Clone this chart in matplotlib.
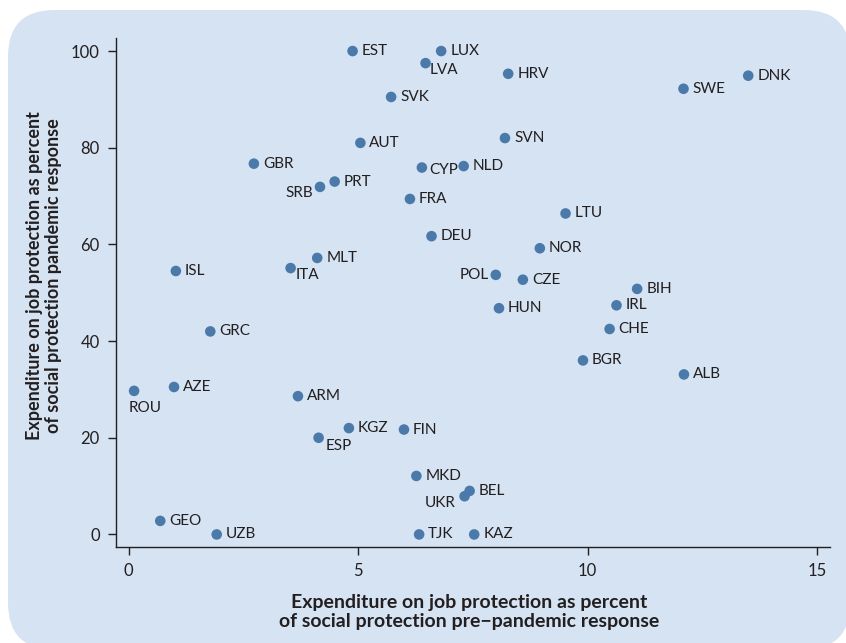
import numpy as np
import matplotlib
matplotlib.use('Agg')
import matplotlib.pyplot as plt
from matplotlib.patches import FancyBboxPatch

plt.rcParams['font.family'] = ['Lato', 'DejaVu Sans']

# country codes, pre-pandemic share (x) and pandemic share (y)
countries = ['EST', 'LUX', 'LVA', 'HRV', 'SWE', 'DNK', 'SVK', 'AUT', 'SVN', 'GBR',
             'CYP', 'NLD', 'PRT', 'SRB', 'FRA', 'LTU', 'DEU', 'NOR', 'MLT', 'ISL',
             'ITA', 'POL', 'CZE', 'BIH', 'IRL', 'HUN', 'CHE', 'GRC', 'BGR', 'ALB',
             'ROU', 'AZE', 'ARM', 'KGZ', 'FIN', 'ESP', 'MKD', 'BEL', 'UKR', 'GEO',
             'UZB', 'TJK', 'KAZ']
pre_pandemic = [4.88, 6.81, 6.47, 8.27, 12.09, 13.50, 5.72, 5.05, 8.20, 2.73,
                6.39, 7.30, 4.49, 4.17, 6.13, 9.52, 6.60, 8.96, 4.11, 1.03,
                3.53, 8.00, 8.59, 11.08, 10.63, 8.07, 10.48, 1.78, 9.90, 12.10,
                0.12, 0.99, 3.69, 4.80, 6.00, 4.14, 6.27, 7.43, 7.32, 0.69,
                1.92, 6.33, 7.53]
pandemic = [100.0, 100.0, 97.5, 95.3, 92.2, 94.9, 90.5, 81.0, 82.0, 76.7,
            75.9, 76.2, 73.0, 71.9, 69.4, 66.4, 61.7, 59.2, 57.2, 54.5,
            55.1, 53.7, 52.7, 50.8, 47.4, 46.8, 42.5, 42.0, 36.0, 33.1,
            29.7, 30.5, 28.6, 22.0, 21.7, 20.0, 12.1, 9.0, 7.9, 2.8,
            0.0, 0.0, 0.0]

xticks = [0, 5, 10, 15]
yticks = [0, 20, 40, 60, 80, 100]

# label placement tweaks (offset in points, horizontal alignment)
label_pos = {
    'LVA': ((3, -5), 'left'),
    'CYP': ((5, -1.5), 'left'),
    'ITA': ((3.5, -5), 'left'),
    'ESP': ((5, -6), 'left'),
    'SRB': ((-5, -4.5), 'right'),
    'POL': ((-5, 0), 'right'),
    'UKR': ((-6.5, -5), 'right'),
    'ROU': ((-4, -12), 'left'),
}

bg = '#d5e3f2'
dot = '#4a79aa'
ink = '#231f20'

fig = plt.figure(figsize=(8.46, 6.43), dpi=100)
fig.patch.set_facecolor('white')
box = FancyBboxPatch((8 / 846, -0.01), 1 - 8 / 846 + 0.005, 1 - 10 / 643 + 0.01,
                     boxstyle='round,pad=0,rounding_size=0.055',
                     transform=fig.transFigure, facecolor=bg, edgecolor='none',
                     mutation_aspect=846 / 643, zorder=-5)
fig.patches.append(box)

ax = fig.add_axes([0.1368, 0.1493, 0.981 - 0.1368, 0.9409 - 0.1493])
ax.set_facecolor('none')

ax.scatter(pre_pandemic, pandemic, s=58, color=dot, edgecolors='none', zorder=3)
for c, x, y in zip(countries, pre_pandemic, pandemic):
    off, ha = label_pos.get(c, ((6.5, 0), 'left'))
    ax.annotate(c, (x, y), xytext=off, textcoords='offset points',
                ha=ha, va='center', fontsize=11, color=ink)

ax.set_xlim(-0.28, 15.28)
ax.set_ylim(-2.6, 102.7)
ax.set_xticks(xticks)
ax.set_yticks(yticks)
for s in ['top', 'right']:
    ax.spines[s].set_visible(False)
for s in ['left', 'bottom']:
    ax.spines[s].set_color(ink)
    ax.spines[s].set_linewidth(1.0)
ax.tick_params(direction='out', length=6, width=1.0, color=ink,
               labelsize=12, labelcolor=ink, pad=5.5)

ax.set_xlabel('Expenditure on job protection as percent\nof social protection pre\u2212pandemic response',
              fontsize=14, fontweight='bold', color=ink, linespacing=1.1, va='center')
ax.xaxis.set_label_coords(0.4946, -0.1277)
ax.set_ylabel('Expenditure on job protection as percent\nof social protection pandemic response',
              fontsize=13, fontweight='bold', color=ink, linespacing=1.2, va='center')
ax.yaxis.set_label_coords(-0.1004, 0.534)

fig.savefig('out.png', dpi=100, facecolor=fig.get_facecolor())
